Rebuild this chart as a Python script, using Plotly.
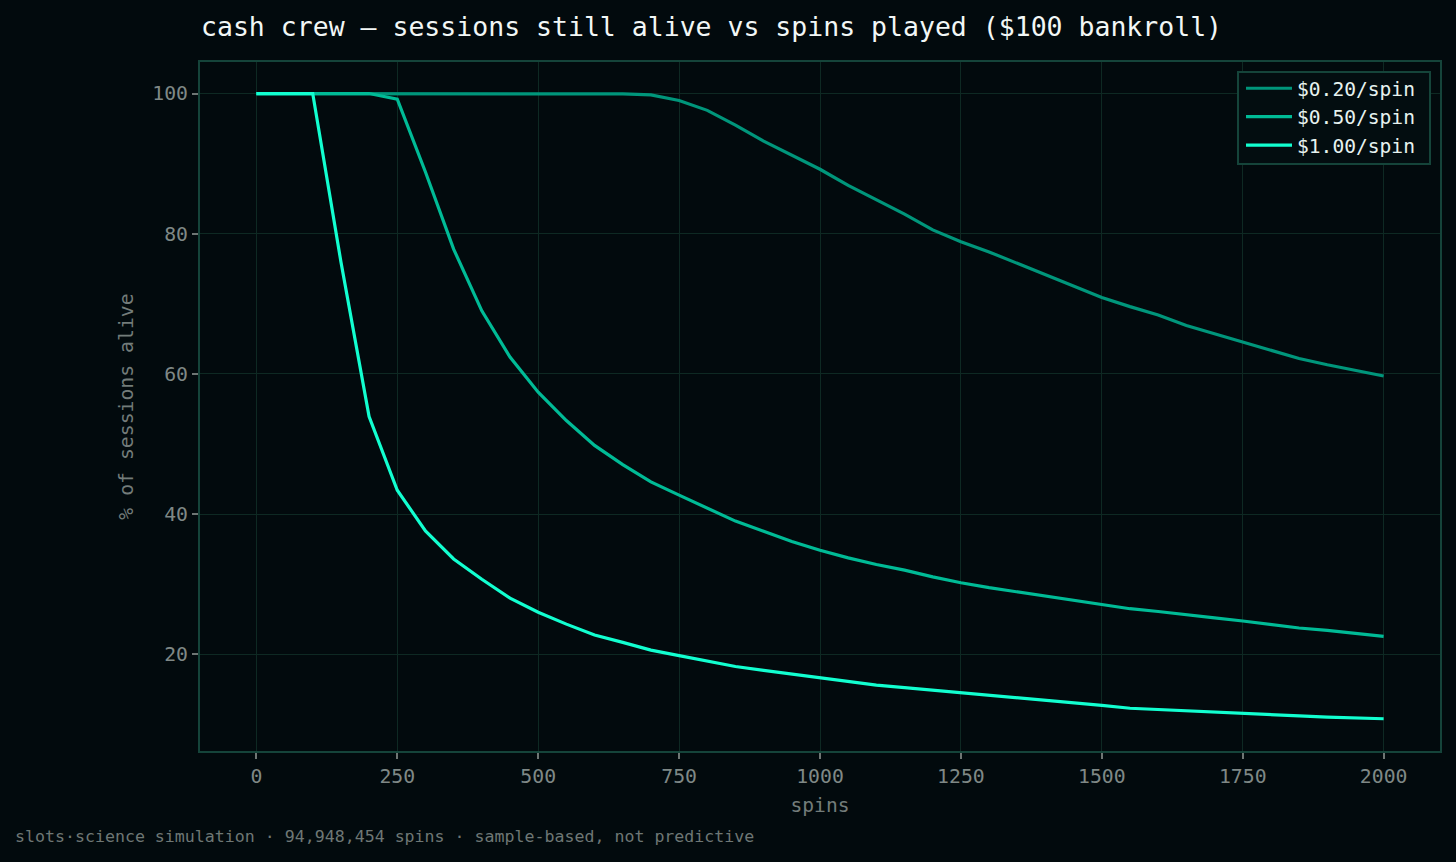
import plotly.graph_objects as go

spins = list(range(0, 2001, 50))

alive_020 = [100, 100, 100, 100, 100, 100, 100, 100, 100, 100, 100, 100, 100, 99.95,
             99.8, 99.0, 97.6, 95.5, 93.2, 91.2, 89.2, 86.9, 84.9, 82.8, 80.55, 78.85,
             77.4, 75.8, 74.2, 72.6, 70.9, 69.6, 68.4, 66.9, 65.7, 64.6, 63.3, 62.2,
             61.3, 60.5, 59.7]
alive_050 = [100, 100, 100, 100, 100, 99.2, 88.8, 77.8, 69.0, 62.4, 57.4, 53.35,
             49.8, 47.05, 44.6, 42.7, 40.9, 39.0, 37.55, 36.1, 34.85, 33.75, 32.8, 32.0,
             31.05, 30.2, 29.5, 28.9, 28.3, 27.7, 27.0, 26.5, 26.1, 25.6, 25.2, 24.75,
             24.2, 23.75, 23.4, 22.95, 22.55]
alive_100 = [100, 100, 100, 76.0, 53.9, 43.4, 37.6, 33.6, 30.7, 28.0, 26.0, 24.3,
             22.75, 21.7, 20.6, 19.8, 19.0, 18.25, 17.7, 17.15, 16.6, 16.1, 15.6, 15.25,
             14.9, 14.45, 14.1, 13.8, 13.4, 13.05, 12.7, 12.3, 12.1, 11.93, 11.74, 11.55,
             11.36, 11.2, 11.03, 10.93, 10.8]

series_names = ["$0.20/spin", "$0.50/spin", "$1.00/spin"]
series_values = [alive_020, alive_050, alive_100]
series_colors = ["#00967b", "#00bb96", "#12ffd0"]

x_ticks = [0, 250, 500, 750, 1000, 1250, 1500, 1750, 2000]
y_ticks = [20, 40, 60, 80, 100]

FONT = "DejaVu Sans Mono"
BG = "#020a0d"
GRID = "#0e2923"
SPINE = "#15443a"
TICKC = "#7f8886"

# plot area in pixels
PL, PR, PT, PB = 200, 1440, 62, 751
PW, PH = PR - PL, PB - PT


def px_x(p):
    return (p - PL) / PW


def px_y(p):
    return (PB - p) / PH


fig = go.Figure()
for name, vals, col in zip(series_names, series_values, series_colors):
    fig.add_trace(go.Scatter(x=spins, y=vals, mode="lines", name=name,
                             line=dict(color=col, width=3.2)))

axis_common = dict(
    showgrid=True, gridcolor=GRID, gridwidth=1,
    showline=True, linecolor=SPINE, linewidth=2, mirror=True,
    ticks="outside", ticklen=6, tickwidth=1.5, tickcolor="#6f7674",
    tickfont=dict(family=FONT, size=19.8, color=TICKC),
    zeroline=False,
)

fig.update_layout(
    width=1456, height=862,
    paper_bgcolor=BG, plot_bgcolor=BG,
    margin=dict(l=PL, r=1456 - PR, t=PT, b=862 - PB),
    title=dict(text="cash crew — sessions still alive vs spins played ($100 bankroll)",
               x=201 / 1456, xanchor="left", y=1 - 27 / 862, yanchor="middle",
               font=dict(family=FONT, size=26.5, color="#f2f7f6")),
    xaxis=dict(range=[-100, 2100], tickvals=x_ticks,
               title=dict(text="spins", font=dict(family=FONT, size=19.6, color="#737c7a"),
                          standoff=12),
               **axis_common),
    yaxis=dict(range=[6.2, 104.5], tickvals=y_ticks,
               title=dict(text="% of sessions alive",
                          font=dict(family=FONT, size=19.8, color="#737c7a"),
                          standoff=13),
               **axis_common),
    legend=dict(x=px_x(1241), y=px_y(69), xanchor="left", yanchor="top",
                bgcolor="rgba(0,0,0,0)", borderwidth=0,
                font=dict(family=FONT, size=19.6, color="#e6f2ef"),
                itemwidth=46, tracegroupgap=0),
    showlegend=True,
    shapes=[dict(type="rect", xref="paper", yref="paper",
                 x0=px_x(1238), x1=px_x(1430), y0=px_y(164), y1=px_y(72),
                 fillcolor="#030d10", line=dict(color=SPINE, width=2), layer="above")],
)

fig.add_annotation(text="slots·science simulation · 94,948,454 spins · sample-based, not predictive",
                   xref="paper", yref="paper", x=px_x(13), y=px_y(836),
                   xanchor="left", yanchor="middle", showarrow=False,
                   font=dict(family=FONT, size=16.6, color="#6e7775"))

fig.write_html("out.html")
